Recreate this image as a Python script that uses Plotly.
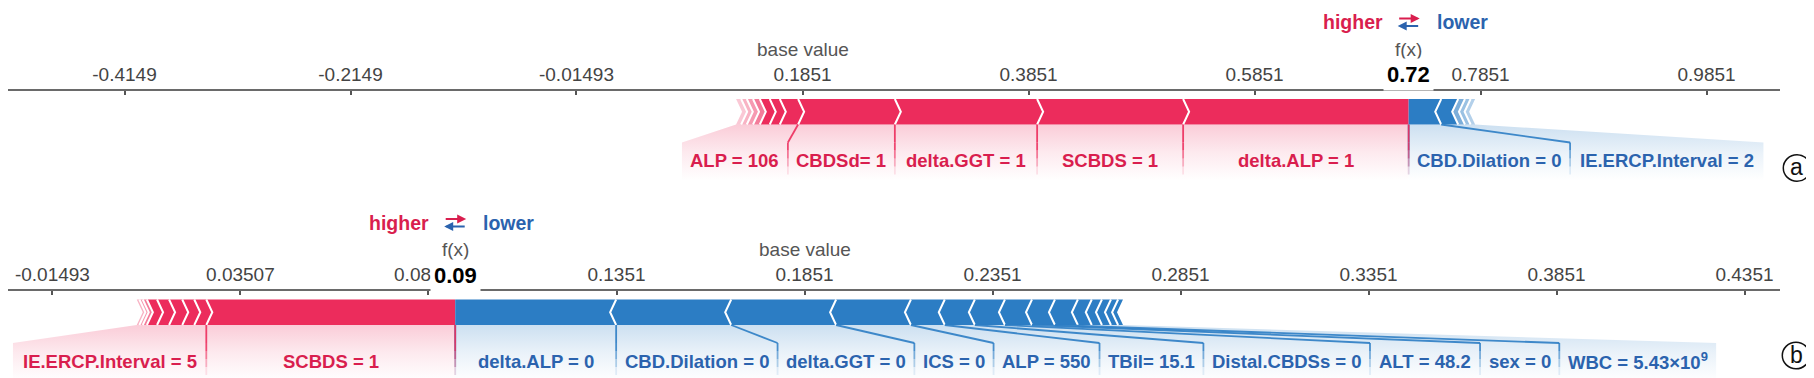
import re
import plotly.graph_objects as go

# ---------------- data ----------------
A_BASE = 0.1851
A_POS_LABELS = ['delta.ALP = 1', 'SCBDS = 1', 'delta.GGT = 1', 'CBDSd= 1', 'ALP = 106', '', '']
A_POS_VALUES = [0.1996, 0.1292, 0.1259, 0.0856, 0.0162, 0.0089, 0.0088]
A_POS_TAIL = [0.0060, 0.0055, 0.0050, 0.0045]
A_NEG_LABELS = ['CBD.Dilation = 0', 'IE.ERCP.Interval = 2']
A_NEG_VALUES = [-0.0288, -0.0150]
A_NEG_TAIL = [-0.0060, -0.0050, -0.0040]
A_TICKS = [-0.4149, -0.2149, -0.01493, 0.1851, 0.3851, 0.5851, 0.7851, 0.9851]
A_TICK_TEXT = ['-0.4149', '-0.2149', '-0.01493', '0.1851', '0.3851', '0.5851', '0.7851', '0.9851']

B_BASE = 0.1851
B_POS_LABELS = ['SCBDS = 1', 'IE.ERCP.Interval = 5', '', '', '', '']
B_POS_VALUES = [0.0662, 0.0032, 0.0032, 0.0035, 0.0032, 0.0027]
B_POS_TAIL = [0.0011, 0.0009, 0.0007]
B_NEG_LABELS = ['delta.ALP = 0', 'CBD.Dilation = 0', 'delta.GGT = 0', 'ICS = 0', 'ALP = 550',
                'TBil= 15.1', 'Distal.CBDSs = 0', 'ALT = 48.2', 'sex = 0', 'WBC = 5.43×10<sup>9</sup>',
                '', '', '', '', '']
B_NEG_VALUES = [-0.0428, -0.0306, -0.0279, -0.0199, -0.0090, -0.0080, -0.0080, -0.0072, -0.0061,
                -0.0061, -0.0037, -0.0027, -0.0024, -0.0019, -0.0013]
B_NEG_TAIL = []
B_TICKS = [-0.01493, 0.03507, 0.08507, 0.1351, 0.1851, 0.2351, 0.2851, 0.3351, 0.3851, 0.4351]
B_TICK_TEXT = ['-0.01493', '0.03507', '0.08507', '0.1351', '0.1851', '0.2351', '0.2851', '0.3351', '0.3851', '0.4351']

# ---------------- layout / style ----------------
W, H = 1814, 378
MARGIN_R = 42
PLOT_W = W - MARGIN_R
A_XRANGE = [-0.5180, 1.0501]
B_XRANGE = [-0.02674, 0.44454]
A_LINE_Y = 82.5
B_LINE_Y = 283.0
A_DEPTH = 107.5
B_DEPTH = H - B_LINE_Y

BAR_TOP, BAR_BOT = 8.5, 34.0
BAR_MID = (BAR_TOP + BAR_BOT) / 2
LINK_Y, DIV_BOT, BACK_BOT, LABEL_Y = 52, 84, 90, 70
TIP = 6
PAD = 17
FONT = 'Liberation Sans, Arial, sans-serif'
LABEL_FS = 18.5

RED = (236, 44, 92)
BLUE = (44, 125, 196)
RED_TXT = '#D91E4E'
BLUE_TXT = '#2B63AE'
TAIL_ALPHA = [0.62, 0.48, 0.36, 0.26]


def rgba(c, a):
    return f'rgba({c[0]},{c[1]},{c[2]},{a})'


def py(abs_px):
    """absolute pixel row (from top of figure) -> paper y"""
    return 1 - abs_px / H


# Arial-Bold advance widths (per 1000 em)
AB = {' ': 278, '.': 278, '=': 584, '(': 333, ')': 333, '×': 584,
      'A': 722, 'B': 722, 'C': 722, 'D': 722, 'E': 667, 'F': 611, 'G': 778, 'H': 722, 'I': 278,
      'L': 611, 'P': 667, 'R': 722, 'S': 667, 'T': 611, 'W': 944,
      'a': 556, 'b': 611, 'c': 556, 'd': 611, 'e': 556, 'g': 611, 'h': 611, 'i': 278, 'l': 278,
      'n': 611, 'o': 611, 'r': 389, 's': 556, 't': 333, 'v': 556, 'x': 556}


def text_px(s, fs):
    total = 0.0
    for p in re.split(r'(<sup>.*?</sup>)', s):
        if p.startswith('<sup>'):
            inner, sc = p[5:-6], 0.7
        else:
            inner, sc = p, 1.0
        total += sum(AB.get(c, 556) for c in inner) * sc
    return total * fs / 1000.0


fig = go.Figure()
annotations = []
shapes = []


def poly(xs, ys):
    return xs + [xs[0]], ys + [ys[0]]


def add_panel(xr, yr, xrange, line_y, base, pos_labels, pos_vals, pos_tail, neg_labels, neg_vals,
              neg_tail, badge, badge_px):
    ppu = PLOT_W / (xrange[1] - xrange[0])
    tip = TIP / ppu
    fx = base + sum(pos_vals) + sum(pos_tail) + sum(neg_vals) + sum(neg_tail)

    # ---- segments ----
    red = []
    cur = fx
    items = [(v, l, 1.0) for v, l in zip(pos_vals, pos_labels)] + \
            [(v, '', a) for v, a in zip(pos_tail, TAIL_ALPHA)]
    for v, l, a in items:
        red.append((cur - v, cur, l, a))
        cur -= v
    blue = []
    cur = fx
    items = [(abs(v), l, 1.0) for v, l in zip(neg_vals, neg_labels)] + \
            [(abs(v), '', a) for v, a in zip(neg_tail, TAIL_ALPHA)]
    for v, l, a in items:
        blue.append((cur, cur + v, l, a))
        cur += v

    # ---- label backings and dividers ----
    div_segments = []

    def add_div(col, pts):
        (xa, ya), (xb, yb), (xc, yc) = pts
        div_segments.append((col, 0.9, [xa, xb], [ya, yb]))
        steps = [0.85, 0.6, 0.35, 0.12]
        n = len(steps)
        for k, al in enumerate(steps):
            y0 = yb + (yc - yb) * k / n
            y1 = yb + (yc - yb) * (k + 1) / n
            div_segments.append((col, al, [xc, xc], [y0, y1]))

    def backing(col, xs, ys):
        fig.add_trace(go.Scatter(
            x=xs, y=ys, xaxis=xr, yaxis=yr, mode='lines', fill='toself',
            line=dict(width=0, color='rgba(0,0,0,0)'),
            fillgradient=dict(type='vertical', start=BAR_BOT, stop=BACK_BOT,
                              colorscale=[[0, rgba(col, 0.24)], [0.5, rgba(col, 0.1)], [1, rgba(col, 0.0)]]),
            hoverinfo='skip', showlegend=False))

    def label(x, text, color):
        annotations.append(dict(
            x=x, y=LABEL_Y, xref=xr, yref=yr, text=f'<b>{text}</b>', showarrow=False,
            xanchor='center', yanchor='middle',
            font=dict(family=FONT, size=LABEL_FS, color=color)))

    # red labels
    bar_left = red[-1][0]
    lab_idx = [i for i, s in enumerate(red) if s[2]]
    prev = fx
    red_divs = []
    for k, i in enumerate(lab_idx):
        x0, x1, lab, _ = red[i]
        tw = (text_px(lab, LABEL_FS) + PAD) / ppu
        br = min(x1, prev)
        bl = br - max(x1 - x0, tw)
        prev = bl
        sl = bar_left if k == len(lab_idx) - 1 else x0
        xs, ys = poly([sl, x1, br, br, bl, bl], [BAR_BOT, BAR_BOT, LINK_Y, BACK_BOT, BACK_BOT, LINK_Y])
        backing(RED, xs, ys)
        red_divs.append([(x1, BAR_BOT), (br, LINK_Y), (br, DIV_BOT)])
        label((bl + br) / 2, lab, RED_TXT)

    # blue labels
    bar_right = blue[-1][1]
    lab_idx = [i for i, s in enumerate(blue) if s[2]]
    prev = fx
    blue_divs = []
    for k, i in enumerate(lab_idx):
        x0, x1, lab, _ = blue[i]
        tw = (text_px(lab, LABEL_FS) + PAD) / ppu
        bl = max(x0, prev)
        br = bl + max(x1 - x0, tw)
        prev = br
        sr = bar_right if k == len(lab_idx) - 1 else x1
        xs, ys = poly([x0, sr, br, br, bl, bl], [BAR_BOT, BAR_BOT, LINK_Y, BACK_BOT, BACK_BOT, LINK_Y])
        backing(BLUE, xs, ys)
        blue_divs.append([(x0, BAR_BOT), (bl, LINK_Y), (bl, DIV_BOT)])
        label((bl + br) / 2, lab, BLUE_TXT)

    # ---- bar polygons ----
    for i, (x0, x1, _, a) in enumerate(red):
        e_end = 0 if i == 0 else 1
        xs, ys = poly([x0, x1, x1 + e_end * tip, x1, x0, x0 + tip],
                      [BAR_TOP, BAR_TOP, BAR_MID, BAR_BOT, BAR_BOT, BAR_MID])
        fig.add_trace(go.Scatter(x=xs, y=ys, xaxis=xr, yaxis=yr, mode='lines', fill='toself',
                                 fillcolor=rgba(RED, a), line=dict(width=0, color=rgba(RED, 0)),
                                 hoverinfo='skip', showlegend=False))
    for i, (x0, x1, _, a) in enumerate(blue):
        e_start = 0 if i == 0 else 1
        xs, ys = poly([x0, x1, x1 - tip, x1, x0, x0 - e_start * tip],
                      [BAR_TOP, BAR_TOP, BAR_MID, BAR_BOT, BAR_BOT, BAR_MID])
        fig.add_trace(go.Scatter(x=xs, y=ys, xaxis=xr, yaxis=yr, mode='lines', fill='toself',
                                 fillcolor=rgba(BLUE, a), line=dict(width=0, color=rgba(BLUE, 0)),
                                 hoverinfo='skip', showlegend=False))

    # ---- white chevron separators ----
    sx, sy = [], []
    for i in range(len(red) - 1):
        b = red[i][0]
        sx += [b, b + tip, b, None]
        sy += [BAR_TOP, BAR_MID, BAR_BOT, None]
    for i in range(len(blue) - 1):
        b = blue[i][1]
        sx += [b, b - tip, b, None]
        sy += [BAR_TOP, BAR_MID, BAR_BOT, None]
    fig.add_trace(go.Scatter(x=sx, y=sy, xaxis=xr, yaxis=yr, mode='lines',
                             line=dict(color='white', width=2), hoverinfo='skip', showlegend=False))

    # ---- dividers (blue first, red on top) ----
    for pts in blue_divs:
        add_div(BLUE, pts)
    for pts in red_divs:
        add_div(RED, pts)
    for col, al, xs, ys in div_segments:
        fig.add_trace(go.Scatter(x=xs, y=ys, xaxis=xr, yaxis=yr, mode='lines',
                                 line=dict(color=rgba(col, al), width=1.8),
                                 hoverinfo='skip', showlegend=False))

    # ---- header texts (paper y so they are drawn above the axis) ----
    gray = '#555555'
    annotations.append(dict(x=base, y=py(line_y - 41.5), xref=xr, yref='paper', text='base value',
                            showarrow=False, xanchor='center', yanchor='middle',
                            font=dict(family=FONT, size=19, color=gray)))
    annotations.append(dict(x=fx, y=py(line_y - 41.5), xref=xr, yref='paper', text='f(x)',
                            showarrow=False, xanchor='center', yanchor='middle',
                            font=dict(family=FONT, size=19, color=gray)))
    annotations.append(dict(x=fx, y=py(line_y - 16), xref=xr, yref='paper', text=f'<b>{fx:.2f}</b>',
                            showarrow=False, xanchor='center', yanchor='middle', bgcolor='white',
                            borderpad=3, font=dict(family=FONT, size=22, color='#000000')))
    annotations.append(dict(x=fx, y=py(line_y - 68.5), xref=xr, yref='paper', text='<b>higher</b>',
                            showarrow=False, xanchor='right', yanchor='middle', xshift=-24,
                            font=dict(family=FONT, size=19.5, color=RED_TXT)))
    annotations.append(dict(x=fx, y=py(line_y - 68.5), xref=xr, yref='paper', text='<b>lower</b>',
                            showarrow=False, xanchor='left', yanchor='middle', xshift=26,
                            font=dict(family=FONT, size=19.5, color=BLUE_TXT)))
    annotations.append(dict(x=fx, y=py(line_y - 72), xref=xr, yref='paper', text='', showarrow=True,
                            xshift=11, ax=-22, ay=0, arrowhead=2, arrowsize=1.0, arrowwidth=1.8,
                            arrowcolor=RED_TXT))
    annotations.append(dict(x=fx, y=py(line_y - 64.5), xref=xr, yref='paper', text='', showarrow=True,
                            xshift=-11, ax=22, ay=0, arrowhead=2, arrowsize=1.0, arrowwidth=1.8,
                            arrowcolor=BLUE_TXT))

    # ---- circled panel letter ----
    cx, cy = badge_px
    rx, ry = 13.7, 13.3
    shapes.append(dict(type='circle', xref='paper', yref='paper',
                       x0=(cx - rx) / PLOT_W, x1=(cx + rx) / PLOT_W,
                       y0=py(cy + ry), y1=py(cy - ry), line=dict(color='#111111', width=1.5)))
    annotations.append(dict(x=cx / PLOT_W, y=py(cy), xref='paper', yref='paper', text=badge,
                            showarrow=False, xanchor='center', yanchor='middle', yshift=1,
                            font=dict(family=FONT, size=23, color='#111111')))


add_panel('x', 'y', A_XRANGE, A_LINE_Y, A_BASE, A_POS_LABELS, A_POS_VALUES, A_POS_TAIL,
          A_NEG_LABELS, A_NEG_VALUES, A_NEG_TAIL, 'a', (1789, 160))
add_panel('x2', 'y2', B_XRANGE, B_LINE_Y, B_BASE, B_POS_LABELS, B_POS_VALUES, B_POS_TAIL,
          B_NEG_LABELS, B_NEG_VALUES, B_NEG_TAIL, 'b', (1788, 347.5))


def xaxis_cfg(rng, anchor, tv, tt):
    return dict(domain=[0, 1], range=rng, anchor=anchor, side='top', showline=True,
                linecolor='#6a6a6a', linewidth=2, ticks='inside', ticklen=4, tickwidth=1.5,
                tickcolor='#555555', tickvals=tv, ticktext=tt, ticklabelstandoff=0,
                tickfont=dict(family=FONT, size=19, color='#444444'),
                showgrid=False, zeroline=False, fixedrange=True)


fig.update_layout(
    width=W, height=H, autosize=False,
    margin=dict(l=0, r=MARGIN_R, t=0, b=0),
    paper_bgcolor='white', plot_bgcolor='white', showlegend=False,
    xaxis=xaxis_cfg(A_XRANGE, 'y', A_TICKS, A_TICK_TEXT),
    xaxis2=xaxis_cfg(B_XRANGE, 'y2', B_TICKS, B_TICK_TEXT),
    yaxis=dict(domain=[1 - (A_LINE_Y + A_DEPTH) / H, 1 - A_LINE_Y / H], range=[A_DEPTH, 0],
               visible=False, fixedrange=True),
    yaxis2=dict(domain=[0, 1 - B_LINE_Y / H], range=[B_DEPTH, 0], visible=False, fixedrange=True),
    annotations=annotations,
    shapes=shapes,
)

fig.write_html('out.html')
